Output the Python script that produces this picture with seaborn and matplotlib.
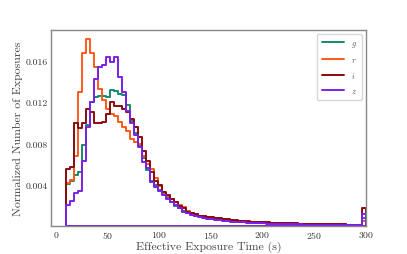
import numpy as np
import pandas as pd
import matplotlib
matplotlib.use("Agg")
import matplotlib.pyplot as plt
from matplotlib.lines import Line2D
import seaborn as sns

# bin edges of the exposure-time histogram (s)
bin_edges = np.linspace(10, 300, 76)

# normalized counts per bin (units of 1e-3)
g_vals = [4.1, 4.4, 4.9, 5.2, 7.8, 9.8, 12.0, 12.5, 12.6, 12.6, 12.5, 13.2, 13.1, 12.8, 12.7,
          11.7, 10.2, 9.0, 7.7, 6.6, 5.4, 4.4, 4.0, 3.5, 3.1, 2.7, 2.3, 1.9, 1.7, 1.5,
          1.3, 1.2, 1.0, 0.95, 0.85, 0.8, 0.75, 0.7, 0.6, 0.55, 0.5, 0.5, 0.45, 0.42, 0.4,
          0.38, 0.35, 0.33, 0.32, 0.3, 0.28, 0.27, 0.26, 0.25, 0.24, 0.22, 0.2, 0.2, 0.19, 0.18,
          0.17, 0.16, 0.15, 0.15, 0.14, 0.13, 0.13, 0.12, 0.12, 0.11, 0.1, 0.1, 0.1, 0.1, 0.75]
r_vals = [4.2, 4.5, 6.8, 13.0, 16.7, 18.1, 16.7, 15.4, 13.3, 12.2, 11.3, 10.8, 10.6, 10.1, 9.6,
          9.2, 8.4, 8.1, 7.9, 6.8, 6.0, 5.5, 4.6, 3.9, 3.2, 2.9, 2.6, 2.3, 2.0, 1.8,
          1.5, 1.3, 1.2, 1.0, 0.95, 0.9, 0.8, 0.7, 0.6, 0.65, 0.55, 0.5, 0.5, 0.45, 0.45,
          0.4, 0.4, 0.38, 0.35, 0.35, 0.3, 0.3, 0.28, 0.3, 0.25, 0.25, 0.22, 0.25, 0.2, 0.2,
          0.22, 0.18, 0.2, 0.18, 0.15, 0.18, 0.15, 0.15, 0.12, 0.15, 0.12, 0.1, 0.12, 0.1, 0.5]
i_vals = [5.5, 5.7, 10.0, 9.5, 10.0, 11.3, 11.0, 10.0, 10.0, 10.1, 10.8, 12.0, 11.6, 11.6, 11.3,
          11.0, 10.4, 9.6, 8.6, 7.3, 6.3, 5.2, 4.4, 4.0, 3.3, 3.0, 2.6, 2.3, 1.9, 1.7,
          1.4, 1.3, 1.2, 1.0, 1.0, 0.9, 0.9, 0.8, 0.8, 0.7, 0.65, 0.6, 0.55, 0.5, 0.45,
          0.45, 0.4, 0.4, 0.38, 0.36, 0.35, 0.33, 0.3, 0.3, 0.28, 0.27, 0.25, 0.25, 0.24, 0.22,
          0.22, 0.2, 0.2, 0.2, 0.18, 0.18, 0.17, 0.16, 0.15, 0.15, 0.14, 0.13, 0.12, 0.12, 1.7]
z_vals = [2.0, 2.4, 3.2, 3.4, 6.3, 9.6, 12.0, 14.2, 15.4, 15.6, 16.4, 15.9, 16.4, 14.4, 13.0,
          11.1, 10.0, 8.8, 7.6, 6.2, 5.6, 4.3, 3.8, 3.4, 3.0, 2.6, 2.3, 2.0, 1.7, 1.4,
          1.3, 1.1, 1.0, 0.9, 0.8, 0.7, 0.65, 0.6, 0.55, 0.5, 0.45, 0.42, 0.4, 0.38, 0.35,
          0.33, 0.3, 0.28, 0.27, 0.25, 0.24, 0.22, 0.2, 0.2, 0.18, 0.17, 0.16, 0.15, 0.15, 0.14,
          0.13, 0.12, 0.12, 0.11, 0.1, 0.1, 0.1, 0.09, 0.09, 0.08, 0.08, 0.08, 0.07, 0.07, 1.15]

bands = ['g', 'r', 'i', 'z']
band_colors = ['#138a6a', '#ff5a1a', '#8b0a0a', '#7b1fe6']
x_ticks = [0, 50, 100, 150, 200, 250, 300]
y_ticks = [0.004, 0.008, 0.012, 0.016]

sns.set_style("white")
plt.rcParams['font.family'] = ['serif']
plt.rcParams['font.serif'] = ['cmr10', 'DejaVu Serif']
plt.rcParams['mathtext.fontset'] = 'cm'
plt.rcParams['axes.formatter.use_mathtext'] = True

centers = 0.5 * (bin_edges[:-1] + bin_edges[1:])
frames = []
for band, vals in zip(bands, [g_vals, r_vals, i_vals, z_vals]):
    frames.append(pd.DataFrame({'t': centers, 'w': np.array(vals) * 1e-3, 'band': band}))
df = pd.concat(frames, ignore_index=True)

fig = plt.figure(figsize=(4.07, 2.55), dpi=100)
ax = fig.add_axes([0.1246, 0.1098, 0.7745, 0.7698])

# outline-only step histograms (filled polygon without face, so edges drop to zero)
for band, color in zip(bands, band_colors):
    sub = df[df['band'] == band]
    sns.histplot(data=sub, x='t', weights='w', bins=bin_edges.tolist(), element='step',
                 fill=True, facecolor='none', color=color, linewidth=1.4, ax=ax)

ax.set_xlim(-5, 300)
ax.set_ylim(0, 0.019)
ax.set_xticks(x_ticks)
ax.set_yticks(y_ticks)
ax.set_yticklabels([f'{v:.3f}' for v in y_ticks])
ax.tick_params(direction='in', length=3, width=0.8, labelsize=7, pad=2, colors='#333333')
for s in ax.spines.values():
    s.set_color('#888888')
    s.set_linewidth(1.0)
    s.set_zorder(5)

ax.set_xlabel('Effective Exposure Time (s)', fontsize=8.5, color='#444444', labelpad=1)
ax.set_ylabel('Normalized Number of Exposures', fontsize=8.5, color='#444444', labelpad=2)

handles = [Line2D([], [], color=c, linewidth=1.4) for c in band_colors]
leg = ax.legend(handles, [f'${b}$' for b in bands], loc='upper right', fontsize=6,
                handlelength=2.7, handletextpad=0.8, labelspacing=0.75, borderpad=0.6,
                frameon=True, borderaxespad=0.5)
for t in leg.get_texts():
    t.set_color('#555555')

fig.savefig('out.png', dpi=100)
